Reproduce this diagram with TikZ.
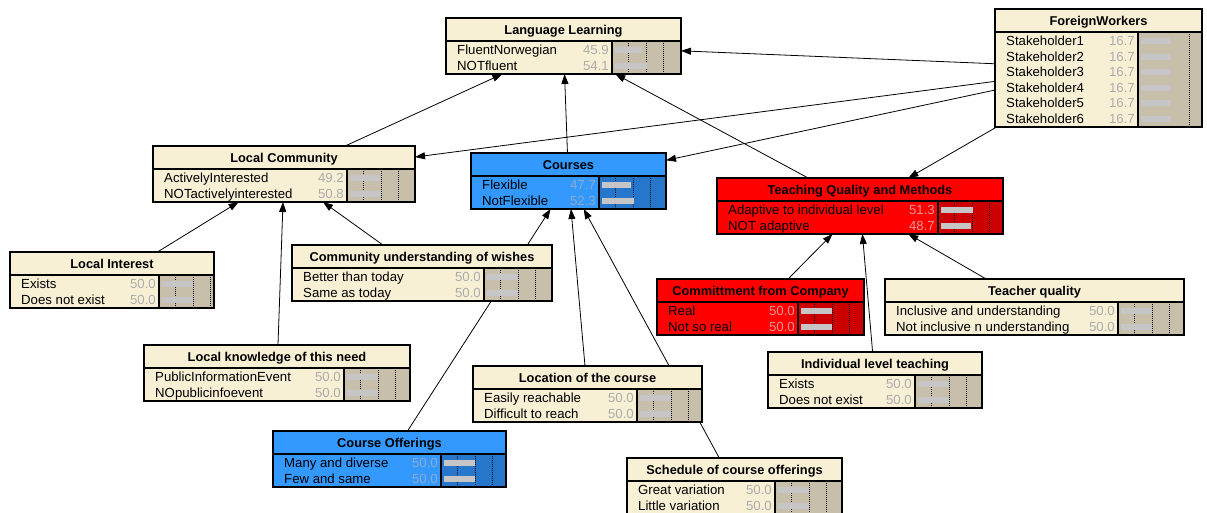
\documentclass[tikz,border=0pt]{standalone}
\usepackage{fontspec}
\setmainfont{Liberation Sans}
\usepackage{tikz}
\usetikzlibrary{arrows.meta,backgrounds}

\definecolor{bgBeige}{RGB}{248,240,213}
\definecolor{barBeige}{RGB}{200,191,170}
\definecolor{numBeige}{RGB}{172,172,172}
\definecolor{bgBlue}{RGB}{51,153,255}
\definecolor{barBlue}{RGB}{38,118,204}
\definecolor{numBlue}{RGB}{140,170,205}
\definecolor{bgRed}{RGB}{255,0,0}
\definecolor{barRed}{RGB}{204,0,0}
\definecolor{numRed}{RGB}{225,150,150}
\definecolor{barGray}{RGB}{198,198,198}

\pgfdeclarelayer{paper}
\pgfsetlayers{paper,background,main}

% dotted scale lines inside the belief bars
\def\bndots{16,34,51}
% #1 name, #2 left, #3 top, #4 width, #5 bar offset, #6 colour set, #7 rows, #8 title, #9 states
\newcommand{\bnnode}[9]{%
  \pgfmathsetmacro{\bnsep}{#3+23}
  \pgfmathsetmacro{\bnh}{25+15.5*#7}
  \pgfmathsetmacro{\bnbot}{#3+\bnh}
  \pgfmathsetmacro{\bnright}{#2+#4}
  \pgfmathsetmacro{\bnbar}{#2+#5}
  \node[netbox,fill=bg#6,minimum width=#4pt,minimum height=\bnh pt,anchor=north west] (#1) at (#2,#3) {};
  \fill[bar#6] (\bnbar,\bnsep) rectangle (\bnright,\bnbot);
  \foreach \dx in \bndots
    \draw[dotline] (\bnbar+\dx,\bnsep) -- (\bnbar+\dx,\bnbot);
  \draw[boxline] (#2,\bnsep) -- (\bnright,\bnsep) (\bnbar,\bnsep) -- (\bnbar,\bnbot);
  \node[titletext] at (#2+#4/2,#3+16) {#8};
  \foreach \st/\val/\len [count=\i] in {#9} {
    \pgfmathsetmacro{\rowy}{\bnsep+9+15.5*(\i-1)}
    \fill[barGray] (\bnbar+3,\rowy-3) rectangle ++(\len,6);
    \node[statetext,anchor=base west] at (#2+11,\rowy+4.5) {\st};
    \node[statetext,text=num#6,anchor=base east] at (\bnbar-3,\rowy+4.5) {\val};
  }
  \draw[boxline] (#1.north west) rectangle (#1.south east);
}

\begin{document}
\begin{tikzpicture}[x=1pt,y=-1pt]
  \tikzstyle{netbox}=[rectangle,draw,line width=1.6pt,outer sep=0pt,inner sep=0pt]
  \tikzstyle{boxline}=[line width=1.6pt]
  \tikzstyle{dotline}=[line width=0.6pt,dash pattern=on 1pt off 1pt]
  \tikzstyle{titletext}=[font=\fontsize{12.8}{14}\selectfont\bfseries,inner sep=0pt,anchor=base]
  \tikzstyle{statetext}=[font=\fontsize{13.2}{15}\selectfont,inner sep=0pt]
  \tikzstyle{link}=[-{Triangle[length=10pt,width=7pt]},line width=0.8pt]

  \begin{pgfonlayer}{paper}
    \fill[white] (0,0) rectangle (1207,512);
  \end{pgfonlayer}
  \useasboundingbox (0,0) rectangle (1207,512);

  % top row
  \bnnode{ll}{446}{18}{235}{166}{Beige}{2}{Language Learning}{FluentNorwegian/45.9/27,NOTfluent/54.1/32}
  {\def\bndots{51}
  \bnnode{fw}{995}{9}{207}{143}{Beige}{6}{ForeignWorkers}{Stakeholder1/16.7/30,Stakeholder2/16.7/30,Stakeholder3/16.7/30,Stakeholder4/16.7/30,Stakeholder5/16.7/30,Stakeholder6/16.7/30}}

  % second row
  \bnnode{lc}{153}{146}{262}{194}{Beige}{2}{Local Community}{ActivelyInterested/49.2/30,NOTactivelyinterested/50.8/31}
  \bnnode{cs}{471}{153}{195}{128}{Blue}{2}{Courses}{Flexible/47.7/29,NotFlexible/52.3/32}
  \bnnode{tq}{717}{178}{286}{221}{Red}{2}{Teaching Quality and Methods}{Adaptive to individual level/51.3/32,NOT adaptive/48.7/30}

  % third row
  \bnnode{li}{10}{252}{204}{149}{Beige}{2}{Local Interest}{Exists/50.0/31,Does not exist/50.0/31}
  \bnnode{cu}{292}{245}{260}{192}{Beige}{2}{Community understanding of wishes}{Better than today/50.0/31,Same as today/50.0/31}
  \bnnode{cfc}{657}{279}{207}{141}{Red}{2}{Committment from Company}{Real/50.0/31,Not so real/50.0/31}
  \bnnode{teq}{885}{279}{299}{233}{Beige}{2}{Teacher quality}{Inclusive and understanding/50.0/31,Not inclusive n understanding/50.0/31}

  % lower rows
  \bnnode{lk}{144}{345}{266}{200}{Beige}{2}{Local knowledge of this need}{PublicInformationEvent/50.0/31,NOpublicinfoevent/50.0/31}
  \bnnode{ilt}{768}{352}{214}{147}{Beige}{2}{Individual level teaching}{Exists/50.0/31,Does not exist/50.0/31}
  \bnnode{loc}{473}{366}{229}{164}{Beige}{2}{Location of the course}{Easily reachable/50.0/31,Difficult to reach/50.0/31}
  \bnnode{co}{273}{431}{233}{168}{Blue}{2}{Course Offerings}{Many and diverse/50.0/31,Few and same/50.0/31}
  \bnnode{sco}{627}{458}{215}{148}{Beige}{2}{Schedule of course offerings}{Great variation/50.0/31,Little variation/50.0/31}

  % links, behind the boxes
  \begin{scope}[on background layer]
    \draw[link] (lc) -- (ll);
    \draw[link] (cs) -- (ll);
    \draw[link] (tq) -- (ll);
    \draw[link] (fw) -- (ll);
    \draw[link] (fw) -- (lc);
    \draw[link] (fw) -- (cs);
    \draw[link] (fw) -- (tq);
    \draw[link] (li) -- (lc);
    \draw[link] (lk) -- (lc);
    \draw[link] (cu) -- (lc);
    \draw[link] (co) -- (cs);
    \draw[link] (loc) -- (cs);
    \draw[link] (sco) -- (cs);
    \draw[link] (cfc) -- (tq);
    \draw[link] (ilt) -- (tq);
    \draw[link] (teq) -- (tq);
  \end{scope}
\end{tikzpicture}
\end{document}
